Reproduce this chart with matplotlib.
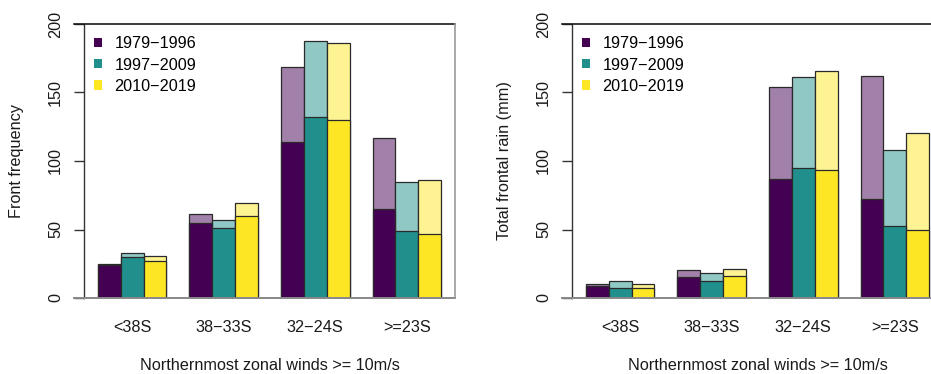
import matplotlib
matplotlib.use("Agg")
import matplotlib.pyplot as plt
from matplotlib.patches import Patch
import numpy as np

plt.rcParams['font.family'] = ['Liberation Sans', 'DejaVu Sans']

categories = ["<38S", "38\u221233S", "32\u221224S", ">=23S"]
periods = ["1979\u22121996", "1997\u22122009", "2010\u22122019"]

# Front frequency: total (light) and dark sub-part, per period, per category
freq_total = {
    "1979\u22121996": [25, 61.5, 168.5, 117],
    "1997\u22122009": [33, 57, 187.6, 84.5],
    "2010\u22122019": [31, 69, 186.3, 86],
}
freq_part = {
    "1979\u22121996": [24, 55, 114, 64.6],
    "1997\u22122009": [29.8, 50.8, 132, 48.8],
    "2010\u22122019": [27, 59.5, 130, 46.8],
}
# Total frontal rain (mm)
rain_total = {
    "1979\u22121996": [10, 20.1, 153.9, 162.4],
    "1997\u22122009": [12.2, 17.9, 161, 107.8],
    "2010\u22122019": [10, 21.4, 165.6, 120.2],
}
rain_part = {
    "1979\u22121996": [8.5, 15.4, 86.8, 72.1],
    "1997\u22122009": [7.1, 12.6, 95.1, 52.4],
    "2010\u22122019": [7.1, 16.4, 93.2, 49.5],
}

dark_cols = ["#440154", "#21908C", "#FDE725"]
light_cols = ["#A180AA", "#90C8C5", "#FEF392"]

W, H = 931, 374
fig = plt.figure(figsize=(W / 100, H / 100), dpi=100)

def px_axes(x0, x1, y0, y1):
    return fig.add_axes([x0 / W, (H - y1) / H, (x1 - x0) / W, (y1 - y0) / H])

ax1 = px_axes(84, 455, 24, 298)
ax2 = px_axes(572, 943, 24, 298)

FS = 11.7

def draw(ax, totals, parts, ylabel):
    n = len(categories)
    for k, p in enumerate(periods):
        lefts = np.arange(n) * 4 + 1 + k
        ax.bar(lefts, totals[p], width=1, align='edge', color=light_cols[k],
               edgecolor="#2a2a2a", linewidth=0.9, zorder=2)
        ax.bar(lefts, parts[p], width=1, align='edge', color=dark_cols[k],
               edgecolor="#2a2a2a", linewidth=0.9, zorder=3)
    ax.set_xlim(0.4, 16.6)
    ax.set_ylim(0, 200)
    ax.set_xticks(np.arange(n) * 4 + 2.5)
    ax.set_xticklabels(categories, fontsize=FS, color="#1a1a1a")
    ax.tick_params(axis='x', length=0, pad=16)
    ax.set_yticks([0, 50, 100, 150, 200])
    ax.tick_params(axis='y', direction='out', length=7, width=1.0,
                   color="#333333", labelsize=FS, labelcolor="#1a1a1a",
                   labelrotation=90, pad=8)
    for lab in ax.get_yticklabels():
        lab.set_va('center')
    for s in ['top', 'bottom', 'right']:
        ax.spines[s].set_visible(False)
    ax.spines['left'].set_color("#333333")
    ax.spines['left'].set_linewidth(1.0)
    # frame lines (top/bottom extend to tick ends, right side)
    ax.plot([-0.026, 1], [1, 1], transform=ax.transAxes, color="#1a1a1a",
            lw=1.2, clip_on=False, zorder=5)
    ax.plot([-0.026, 1], [0, 0], transform=ax.transAxes, color="#888888",
            lw=1.4, clip_on=False, zorder=5)
    ax.plot([1, 1], [0, 1], transform=ax.transAxes, color="#999999",
            lw=1.2, clip_on=False, zorder=5)
    ax.set_ylabel(ylabel, fontsize=FS, color="#1a1a1a", va='center')
    ax.yaxis.set_label_coords(-0.181, 0.5)
    ax.set_xlabel("Northernmost zonal winds >= 10m/s", fontsize=FS,
                  color="#1a1a1a", va='center')
    ax.xaxis.set_label_coords(0.5, -0.248)
    handles = [Patch(facecolor=c, edgecolor='none') for c in dark_cols]
    ax.legend(handles, periods, loc='upper left', bbox_to_anchor=(0.027, 0.955),
              frameon=False, fontsize=FS, handlelength=0.5, handleheight=0.5,
              handletextpad=0.75, labelspacing=0.38, borderpad=0,
              borderaxespad=0)
    ax.set_facecolor('none')

draw(ax1, freq_total, freq_part, "Front frequency")
draw(ax2, rain_total, rain_part, "Total frontal rain (mm)")

fig.savefig("out.png", dpi=100)
